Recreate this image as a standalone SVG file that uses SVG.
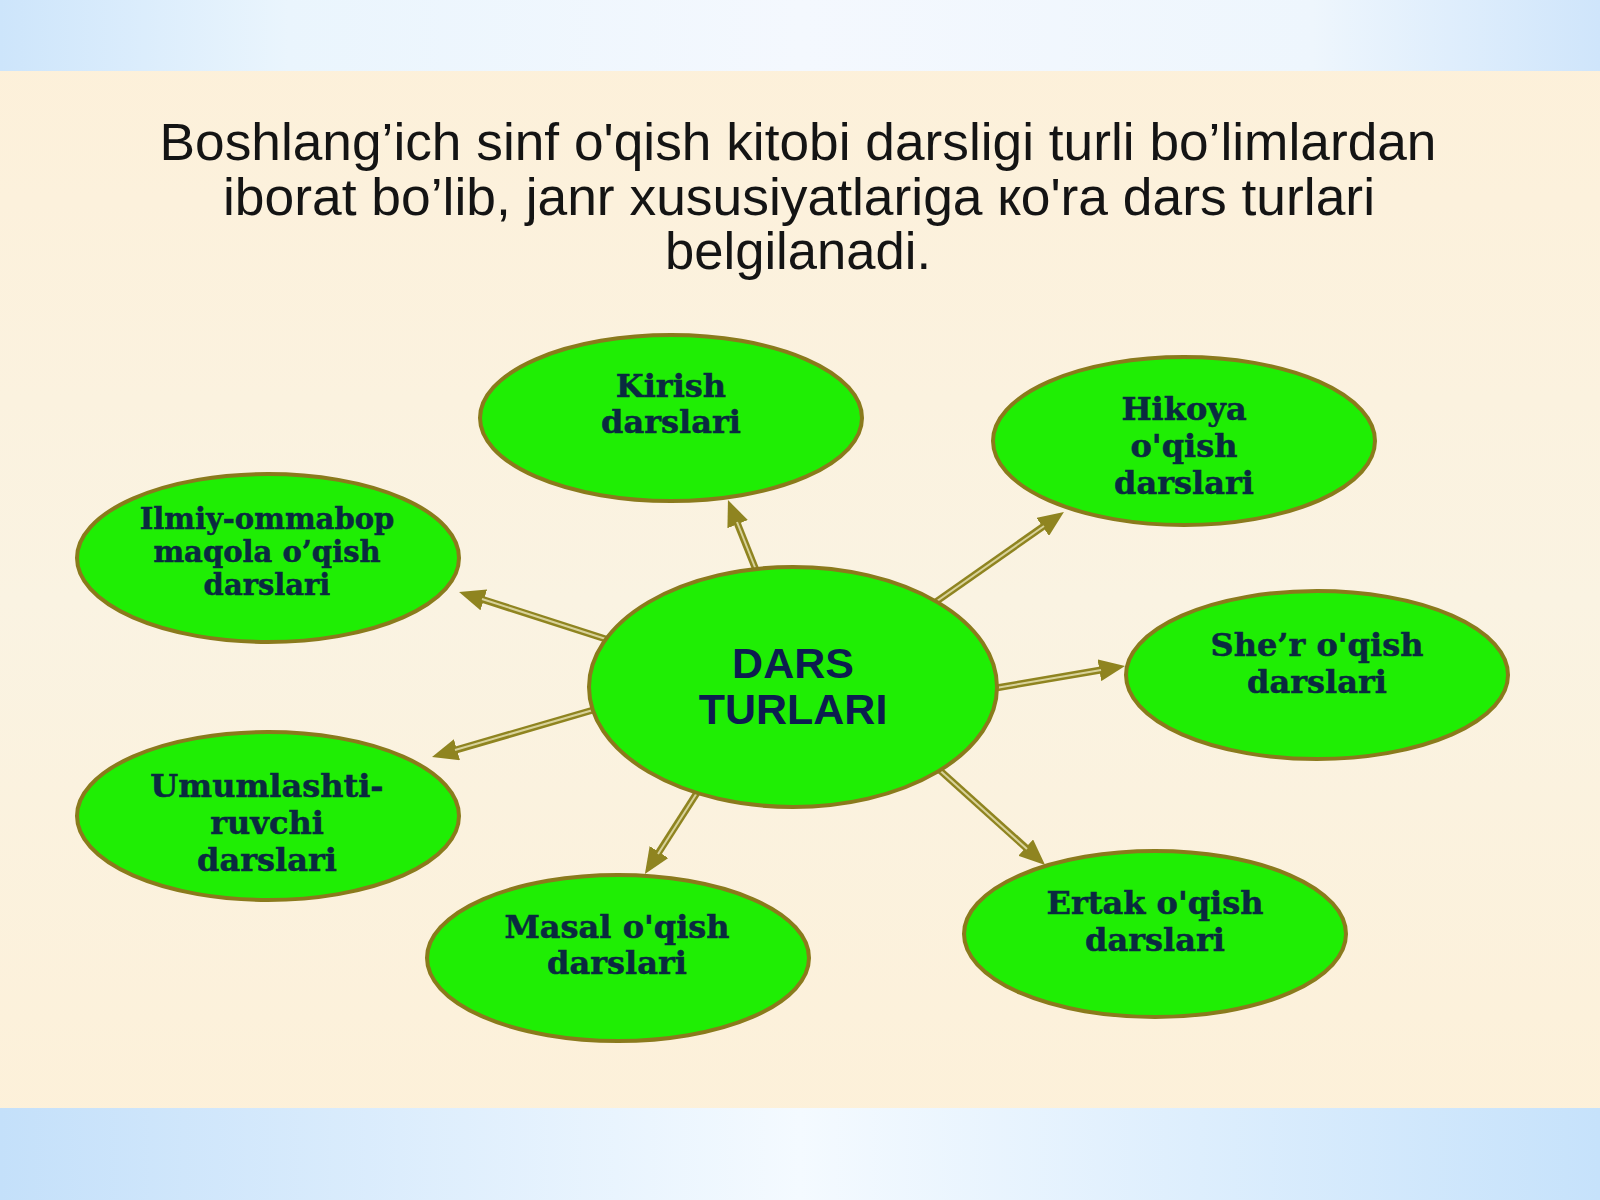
<svg xmlns="http://www.w3.org/2000/svg" width="1600" height="1200" viewBox="0 0 1600 1200">
<defs>
<linearGradient id="topband" x1="0" y1="0" x2="1" y2="0">
<stop offset="0" stop-color="#cde5fb"/>
<stop offset="0.18" stop-color="#eaf5fd"/>
<stop offset="0.5" stop-color="#f4f8fe"/>
<stop offset="0.82" stop-color="#eef6fd"/>
<stop offset="1" stop-color="#cfe5fb"/>
</linearGradient>
<linearGradient id="botband" x1="0" y1="0" x2="1" y2="0">
<stop offset="0" stop-color="#c4e0fa"/>
<stop offset="0.5" stop-color="#f4faff"/>
<stop offset="1" stop-color="#c6e2fb"/>
</linearGradient>
<linearGradient id="cream" x1="0" y1="0" x2="0" y2="1">
<stop offset="0" stop-color="#fdf0d9"/>
<stop offset="0.5" stop-color="#faf3e2"/>
<stop offset="1" stop-color="#fdf0d8"/>
</linearGradient>
<marker id="head" viewBox="0 0 26 22" markerWidth="26" markerHeight="22" markerUnits="userSpaceOnUse" refX="6" refY="11" orient="auto">
<path d="M0,0 L26,11 L0,22 z" fill="#8f8420"/>
</marker>
</defs>
<style>
.node ellipse { fill: #1fee04; stroke: #8a7a1c; stroke-width: 4; }
.lbl { font-family: "DejaVu Serif", "Liberation Serif", serif; font-weight: bold; font-size: 32px; fill: #0a2a40; text-anchor: middle; stroke: #0a2a40; stroke-width: 0.5; }
.lbl.sm { font-size: 29px; }
.center { font-family: "Liberation Sans", Arial, sans-serif; font-weight: bold; font-size: 43px; fill: #0c1d4f; text-anchor: middle; }
.title { font-family: "Liberation Sans", Arial, sans-serif; font-size: 51px; fill: #141414; text-anchor: middle; }
.shaft { stroke: #8f8420; stroke-width: 7; fill: none; }
.shaft-hi { stroke: #d8d29a; stroke-width: 2; fill: none; }
</style>
<rect x="0" y="0" width="1600" height="1200" fill="url(#cream)"/>
<rect x="0" y="0" width="1600" height="71" fill="url(#topband)"/>
<rect x="0" y="1108" width="1600" height="92" fill="url(#botband)"/>
<g id="title">
<text class="title" x="798" y="160" textLength="1277" lengthAdjust="spacingAndGlyphs">Boshlang’ich sinf o'qish kitobi darsligi turli bo’limlardan</text>
<text class="title" x="799" y="215" textLength="1152" lengthAdjust="spacingAndGlyphs">iborat bo’lib, janr xususiyatlariga кo'ra dars turlari</text>
<text class="title" x="798" y="269" textLength="266" lengthAdjust="spacingAndGlyphs">belgilanadi.</text>
</g>
<g id="connectors">
<line class="shaft" x1="760" y1="580" x2="735.4" y2="518.6" marker-end="url(#head)"/>
<line class="shaft-hi" x1="760" y1="580" x2="737" y2="522"/>
<line class="shaft" x1="930" y1="606" x2="1047.6" y2="523.4" marker-end="url(#head)"/>
<line class="shaft-hi" x1="930" y1="606" x2="1044" y2="526"/>
<line class="shaft" x1="615" y1="642" x2="478.1" y2="598" marker-end="url(#head)"/>
<line class="shaft-hi" x1="615" y1="642" x2="482" y2="599"/>
<line class="shaft" x1="990" y1="689" x2="1105.3" y2="669.3" marker-end="url(#head)"/>
<line class="shaft-hi" x1="990" y1="689" x2="1101" y2="670"/>
<line class="shaft" x1="600" y1="708" x2="451.2" y2="751.4" marker-end="url(#head)"/>
<line class="shaft-hi" x1="600" y1="708" x2="455" y2="750"/>
<line class="shaft" x1="702" y1="785" x2="655.7" y2="857.1" marker-end="url(#head)"/>
<line class="shaft-hi" x1="702" y1="785" x2="658" y2="854"/>
<line class="shaft" x1="934" y1="765" x2="1030.2" y2="851.6" marker-end="url(#head)"/>
<line class="shaft-hi" x1="934" y1="765" x2="1027" y2="849"/>
</g>
<g id="node-center" class="node">
<ellipse cx="793" cy="687" rx="204" ry="120"/>
<text class="center" x="793" y="678">DARS</text>
<text class="center" x="793" y="724">TURLARI</text>
</g>
<g id="node-kirish" class="node">
<ellipse cx="671" cy="418" rx="191" ry="83"/>
<text class="lbl" x="671" y="397">Kirish</text>
<text class="lbl" x="671" y="433">darslari</text>
</g>
<g id="node-hikoya" class="node">
<ellipse cx="1184" cy="441" rx="191" ry="84"/>
<text class="lbl" x="1184" y="420">Hikoya</text>
<text class="lbl" x="1184" y="457">o'qish</text>
<text class="lbl" x="1184" y="494">darslari</text>
</g>
<g id="node-ilmiy" class="node">
<ellipse cx="268" cy="558" rx="191" ry="84"/>
<text class="lbl sm" x="267" y="529">Ilmiy-ommabop</text>
<text class="lbl sm" x="267" y="562">maqola o’qish</text>
<text class="lbl sm" x="267" y="595">darslari</text>
</g>
<g id="node-sher" class="node">
<ellipse cx="1317" cy="675" rx="191" ry="84"/>
<text class="lbl" x="1317" y="656">She’r o'qish</text>
<text class="lbl" x="1317" y="693">darslari</text>
</g>
<g id="node-umumlashti" class="node">
<ellipse cx="268" cy="816" rx="191" ry="84"/>
<text class="lbl" x="267" y="797">Umumlashti-</text>
<text class="lbl" x="267" y="834">ruvchi</text>
<text class="lbl" x="267" y="871">darslari</text>
</g>
<g id="node-masal" class="node">
<ellipse cx="618" cy="958" rx="191" ry="83"/>
<text class="lbl" x="617" y="938">Masal o'qish</text>
<text class="lbl" x="617" y="974">darslari</text>
</g>
<g id="node-ertak" class="node">
<ellipse cx="1155" cy="934" rx="191" ry="83"/>
<text class="lbl" x="1155" y="914">Ertak o'qish</text>
<text class="lbl" x="1155" y="951">darslari</text>
</g>
</svg>
